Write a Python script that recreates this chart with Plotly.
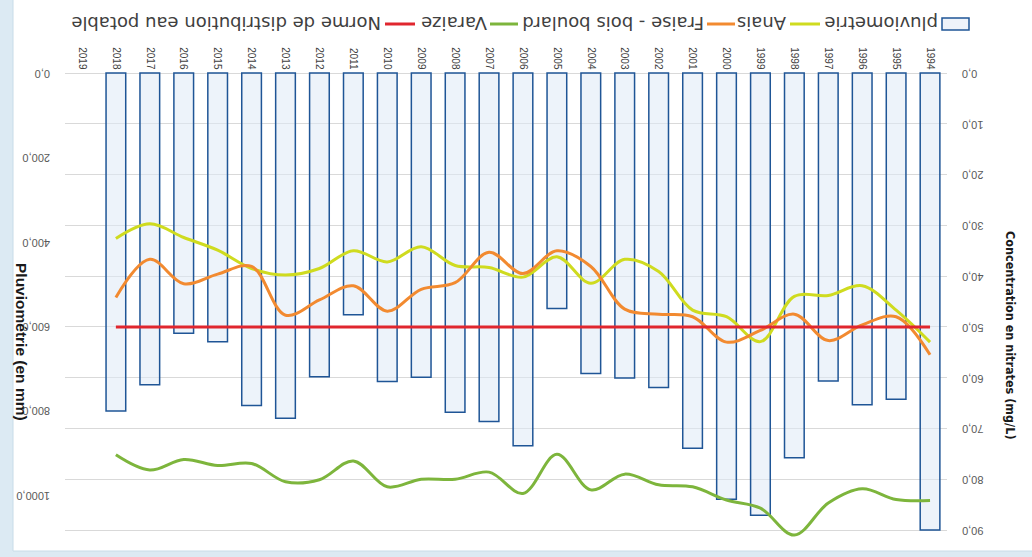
import plotly.graph_objects as go

# ---------------- data (years 1994 .. 2019) ----------------
years = ["1994", "1995", "1996", "1997", "1998", "1999", "2000", "2001", "2002",
         "2003", "2004", "2005", "2006", "2007", "2008", "2009", "2010", "2011",
         "2012", "2013", "2014", "2015", "2016", "2017", "2018", "2019"]
pluviometrie = [1083, 773, 786, 730, 912, 1048, 1010, 889, 745, 723, 712, 558, 883,
                826, 804, 721, 731, 573, 720, 818, 788, 637, 617, 739, 801, None]
anais = [53.0, 46.7, 41.9, 43.8, 44.0, 52.9, 48.0, 46.7, 39.1, 36.7, 41.4, 36.2, 40.2,
         38.3, 37.9, 34.2, 37.2, 35.0, 38.5, 39.8, 38.5, 34.9, 32.4, 29.7, 32.6, None]
fraise = [55.5, 48.0, 49.6, 52.7, 47.5, 50.7, 53.0, 48.0, 47.5, 46.5, 38.1, 35.0, 39.5,
          35.3, 41.3, 42.6, 46.9, 41.9, 44.7, 47.7, 38.1, 39.6, 41.5, 36.7, 44.2, None]
varaize = [84.2, 84.0, 81.9, 84.7, 91.0, 85.7, 84.1, 81.5, 81.1, 79.0, 82.1, 75.1, 82.8,
           78.6, 80.0, 80.0, 81.5, 76.4, 80.1, 80.5, 76.9, 77.3, 76.1, 78.2, 75.2, None]
norme = [50, 50, 50, 50, 50, 50, 50, 50, 50, 50, 50, 50, 50,
         50, 50, 50, 50, 50, 50, 50, 50, 50, 50, 50, 50, None]

left_ticks = [0, 200, 400, 600, 800, 1000]
right_ticks = [0, 10, 20, 30, 40, 50, 60, 70, 80, 90]

names = ["pluviometrie", "Anais", "Fraise - bois boulard", "Varaize",
         "Norme de distribution eau potable"]
colors = {"bar_fill": "rgba(222,233,246,0.55)", "bar_line": "#1F5596",
          "Anais": "#CFDB1F", "Fraise": "#F28A30", "Varaize": "#7DB53C",
          "Norme": "#E0262E"}

# ---------------- geometry (image is the chart turned upside down) ----------------
W, H = 1032, 557
PL, PR, PT, PB = 65, 947, 60, 545


def fx(px):
    return (px - PL) / (PR - PL)


def fy(py):
    return (PB - py) / (PB - PT)


R0, R90 = 73, 530        # right axis: 0 at top, 90 near bottom
L0, L1000 = 73, 495      # left axis: 0 at top, 1000 near bottom
r_per_px = 90 / (R90 - R0)
l_per_px = 1000 / (L1000 - L0)
y2_range = [(PB - R0) * r_per_px, (PT - R0) * r_per_px]
y_range = [(PB - L0) * l_per_px, (PT - L0) * l_per_px]

fig = go.Figure()
fig.add_trace(go.Bar(x=years, y=pluviometrie, name=names[0], width=0.58,
                     marker=dict(color=colors["bar_fill"],
                                 line=dict(color=colors["bar_line"], width=1.5)),
                     yaxis="y"))
fig.add_trace(go.Scatter(x=years, y=anais, name=names[1], mode="lines",
                         line=dict(color=colors["Anais"], width=3, shape="spline", smoothing=1.0),
                         yaxis="y2"))
fig.add_trace(go.Scatter(x=years, y=fraise, name=names[2], mode="lines",
                         line=dict(color=colors["Fraise"], width=3, shape="spline", smoothing=1.0),
                         yaxis="y2"))
fig.add_trace(go.Scatter(x=years, y=varaize, name=names[3], mode="lines",
                         line=dict(color=colors["Varaize"], width=3, shape="spline", smoothing=1.0),
                         yaxis="y2"))
fig.add_trace(go.Scatter(x=years, y=norme, name=names[4], mode="lines",
                         line=dict(color=colors["Norme"], width=3),
                         yaxis="y2"))

tick_font = dict(family="Liberation Sans, Arial, sans-serif", size=11, color="#595959")

fig.update_layout(
    width=W, height=H,
    margin=dict(l=PL, r=W - PR, t=PT, b=H - PB, autoexpand=False),
    paper_bgcolor="#DCEAF3",
    plot_bgcolor="rgba(0,0,0,0)",
    separators=", ",
    showlegend=False,
    bargap=0.42,
    xaxis=dict(type="category", categoryorder="array", categoryarray=years,
               range=[25.5, -0.5], side="top", tickangle=90,
               tickfont=dict(family="Liberation Sans, Arial, sans-serif", size=10, color="#404040"),
               showgrid=False, showline=False, zeroline=False, ticks="",
               ticklabelstandoff=-12, automargin=False),
    yaxis=dict(range=y_range, tickmode="array", tickvals=left_ticks, tickformat=".1f",
               tickangle=180, ticklabelposition="inside", ticklabelstandoff=-18,
               ticklabelshift=-4,
               tickfont=tick_font, showgrid=False, zeroline=False, showline=False,
               ticks="", automargin=False),
    yaxis2=dict(range=y2_range, tickmode="array", tickvals=right_ticks, tickformat=".1f",
                tickangle=180, ticklabelposition="inside", ticklabelstandoff=-18,
                ticklabelshift=-4,
                tickfont=tick_font, overlaying="y", side="right",
                showgrid=True, gridcolor="#D9D9D9", gridwidth=1,
                zeroline=False, showline=False, ticks="", automargin=False),
)

shapes = [
    # white panel inside the light-blue frame
    dict(type="rect", xref="paper", yref="paper", layer="below",
         x0=fx(13), x1=fx(1040), y0=fy(551), y1=fy(-5),
         fillcolor="white", line=dict(color="#C8DCE8", width=1)),
]

annotations = [
    dict(text="Pluviométrie (en mm)", xref="paper", yref="paper",
         x=fx(21), y=fy(342), showarrow=False, textangle=90,
         xanchor="center", yanchor="middle",
         font=dict(family="Liberation Sans, Arial, sans-serif", size=15.5, color="#1A1A1A",
                   weight="bold")),
    dict(text="Concentration en nitrates (mg/L)", xref="paper", yref="paper",
         x=fx(1011), y=fy(336), showarrow=False, textangle=90,
         xanchor="center", yanchor="middle",
         font=dict(family="Liberation Sans Narrow, DejaVu Sans Condensed, Liberation Sans, sans-serif",
                   size=12.5, color="#1A1A1A", weight="bold")),
]

# legend, drawn upside down like the rest of the picture
LEG_Y = 24
legend_items = [
    # name, text centre x, symbol x0, symbol x1, kind, colour
    (names[0], 881, 942, 969, "box", None),
    (names[1], 762, 790, 820, "line", colors["Anais"]),
    (names[2], 613, 707, 735, "line", colors["Fraise"]),
    (names[3], 454, 490, 518, "line", colors["Varaize"]),
    (names[4], 226, 385, 415, "line", colors["Norme"]),
]
for name, tcx, sx0, sx1, kind, col in legend_items:
    annotations.append(dict(text=name, xref="paper", yref="paper", x=fx(tcx), y=fy(LEG_Y),
                            showarrow=False, textangle=180, xanchor="center", yanchor="middle",
                            font=dict(family="DejaVu Sans, sans-serif", size=18, color="#404040")))
    if kind == "box":
        shapes.append(dict(type="rect", xref="paper", yref="paper",
                           x0=fx(sx0), x1=fx(sx1), y0=fy(LEG_Y + 6), y1=fy(LEG_Y - 6),
                           fillcolor="#EEF3FA", line=dict(color=colors["bar_line"], width=1.5)))
    else:
        shapes.append(dict(type="line", xref="paper", yref="paper",
                           x0=fx(sx0), x1=fx(sx1), y0=fy(LEG_Y), y1=fy(LEG_Y),
                           line=dict(color=col, width=3)))

fig.update_layout(shapes=shapes, annotations=annotations)

fig.write_html("out.html", config={"displayModeBar": False},
               post_script="document.body.style.margin='0';document.body.style.overflow='hidden';")
